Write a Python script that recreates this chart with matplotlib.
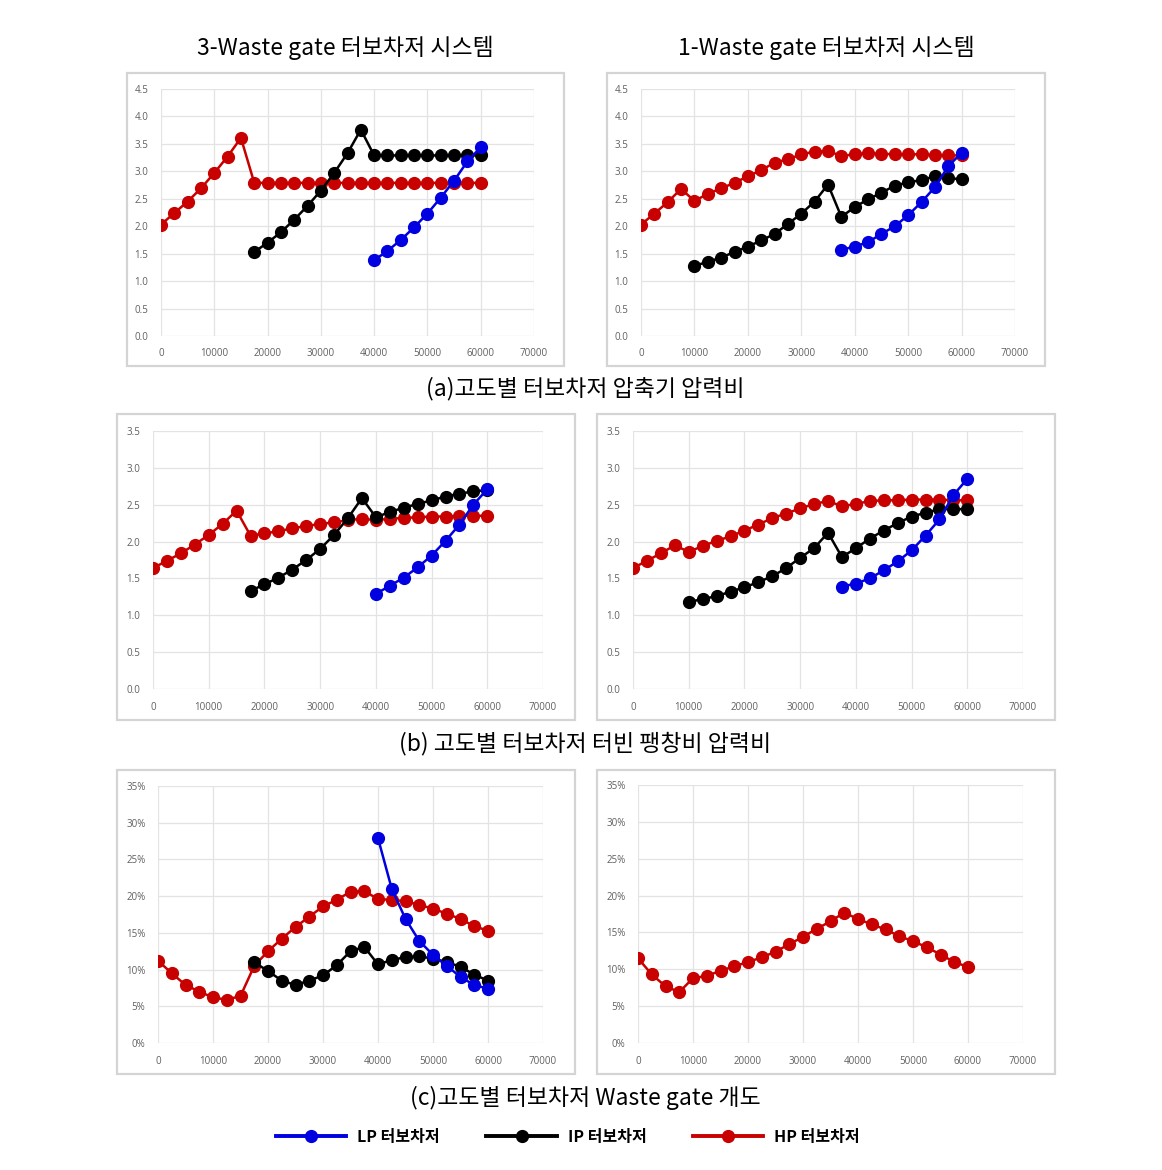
import matplotlib
matplotlib.use("Agg")
from matplotlib import pyplot as plt
from matplotlib.patches import Rectangle
from matplotlib.ticker import MultipleLocator, PercentFormatter

plt.rcParams['font.family'] = ['Noto Sans CJK KR', 'DejaVu Sans']

# altitude steps (m)
alt_all = list(range(0, 60001, 2500))
alt_ip_3 = list(range(17500, 60001, 2500))
alt_lp_3 = list(range(40000, 60001, 2500))
alt_ip_1 = list(range(10000, 60001, 2500))
alt_lp_1 = list(range(37500, 60001, 2500))

# (a) compressor pressure ratio
a3_hp = [2.03, 2.24, 2.45, 2.69, 2.97, 3.27, 3.61, 2.79, 2.79, 2.79, 2.79, 2.79, 2.79,
         2.79, 2.79, 2.79, 2.79, 2.79, 2.79, 2.79, 2.79, 2.79, 2.79, 2.79, 2.79]
a3_ip = [1.53, 1.70, 1.89, 2.12, 2.37, 2.65, 2.97, 3.33, 3.76,
         3.29, 3.29, 3.29, 3.29, 3.29, 3.29, 3.29, 3.29, 3.29]
a3_lp = [1.38, 1.55, 1.75, 1.98, 2.23, 2.52, 2.83, 3.18, 3.44]

a1_hp = [2.03, 2.23, 2.44, 2.68, 2.46, 2.59, 2.69, 2.79, 2.91, 3.02, 3.16, 3.22, 3.31,
         3.36, 3.37, 3.28, 3.31, 3.33, 3.32, 3.31, 3.31, 3.31, 3.29, 3.29, 3.29]
a1_ip = [1.28, 1.35, 1.43, 1.53, 1.63, 1.74, 1.86, 2.04, 2.23, 2.45, 2.76,
         2.17, 2.35, 2.49, 2.61, 2.74, 2.80, 2.84, 2.91, 2.87, 2.86]
a1_lp = [1.57, 1.63, 1.71, 1.86, 2.00, 2.20, 2.44, 2.71, 3.09, 3.34]

# (b) turbine expansion ratio
b3_hp = [1.64, 1.74, 1.84, 1.96, 2.09, 2.24, 2.42, 2.08, 2.11, 2.14, 2.18, 2.21, 2.24,
         2.26, 2.29, 2.31, 2.29, 2.31, 2.32, 2.33, 2.34, 2.34, 2.35, 2.35, 2.35]
b3_ip = [1.33, 1.42, 1.51, 1.62, 1.75, 1.90, 2.09, 2.32, 2.59,
         2.33, 2.40, 2.46, 2.51, 2.56, 2.61, 2.65, 2.68, 2.70]
b3_lp = [1.29, 1.40, 1.51, 1.65, 1.81, 2.01, 2.23, 2.50, 2.71]

b1_hp = [1.64, 1.74, 1.84, 1.95, 1.86, 1.94, 2.01, 2.07, 2.15, 2.23, 2.32, 2.38, 2.45,
         2.51, 2.55, 2.48, 2.51, 2.55, 2.56, 2.56, 2.57, 2.57, 2.57, 2.56, 2.56]
b1_ip = [1.18, 1.22, 1.26, 1.32, 1.38, 1.45, 1.53, 1.64, 1.78, 1.91, 2.12,
         1.79, 1.91, 2.04, 2.15, 2.25, 2.34, 2.39, 2.44, 2.44, 2.44]
b1_lp = [1.39, 1.43, 1.50, 1.61, 1.73, 1.88, 2.08, 2.30, 2.63, 2.85]

# (c) waste gate opening (%)
c3_hp = [11.2, 9.5, 7.9, 7.0, 6.2, 5.9, 6.4, 10.5, 12.5, 14.2, 15.8, 17.2, 18.6,
         19.5, 20.6, 20.7, 19.6, 19.5, 19.3, 18.8, 18.3, 17.6, 16.9, 15.9, 15.3]
c3_ip = [11.0, 9.8, 8.5, 7.9, 8.5, 9.2, 10.6, 12.5, 13.1,
         10.7, 11.3, 11.7, 11.8, 11.5, 11.0, 10.4, 9.3, 8.5]
c3_lp = [27.9, 21.0, 16.9, 13.9, 12.0, 10.5, 9.0, 7.9, 7.4]

c1_hp = [11.5, 9.3, 7.7, 6.9, 8.8, 9.1, 9.8, 10.4, 11.0, 11.6, 12.4, 13.4, 14.4,
         15.5, 16.5, 17.7, 16.8, 16.1, 15.4, 14.5, 13.8, 13.0, 12.0, 11.0, 10.3]

col_titles = ["3-Waste gate 터보차저 시스템", "1-Waste gate 터보차저 시스템"]
captions = ["(a)고도별 터보차저 압축기 압력비",
            "(b) 고도별 터보차저 터빈 팽창비 압력비",
            "(c)고도별 터보차저 Waste gate 개도"]
series_names = ["LP 터보차저", "IP 터보차저", "HP 터보차저"]

BLUE = "#0000e0"
BLACK = "#000000"
RED = "#c80000"

W, H = 1162, 1170
fig = plt.figure(figsize=(W / 100, H / 100), dpi=100)


def px_axes(x0, y0, x1, y1):
    return fig.add_axes([x0 / W, 1 - y1 / H, (x1 - x0) / W, (y1 - y0) / H])


def frame(x0, y0, x1, y1):
    fig.patches.append(Rectangle((x0 / W, 1 - y1 / H), (x1 - x0) / W, (y1 - y0) / H,
                                 transform=fig.transFigure, fill=False,
                                 edgecolor="#d4d4d4", linewidth=1.6))


def style(ax, ymax, ystep, pct=False):
    ax.set_xlim(0, 70000)
    ax.set_ylim(0, ymax)
    ax.xaxis.set_major_locator(MultipleLocator(10000))
    ax.yaxis.set_major_locator(MultipleLocator(ystep))
    if pct:
        ax.yaxis.set_major_formatter(PercentFormatter(xmax=100, decimals=0))
    else:
        ax.yaxis.set_major_formatter(plt.FuncFormatter(lambda v, p: f"{v:.1f}"))
    ax.grid(True, color="#e3e3e3", linewidth=0.9)
    ax.set_axisbelow(True)
    for s in ax.spines.values():
        s.set_visible(False)
    ax.tick_params(length=0, labelsize=7, labelcolor="#606060", pad=9)
    for lab in ax.get_xticklabels() + ax.get_yticklabels():
        lab.set_family(['Open Sans', 'DejaVu Sans'])


def series(ax, x, y, color):
    return ax.plot(x, y, color=color, linewidth=1.8, marker="o", markersize=8.5,
                   markerfacecolor=color, markeredgecolor=color)[0]


# frames
frame(127, 73, 564, 366)
frame(607, 73, 1045, 366)
frame(117, 414, 575, 720)
frame(597, 414, 1055, 720)
frame(117, 770, 575, 1074)
frame(597, 770, 1055, 1074)

# row (a)
ax = px_axes(161, 89, 534, 336)
style(ax, 4.5, 0.5)
series(ax, alt_all, a3_hp, RED)
series(ax, alt_ip_3, a3_ip, BLACK)
series(ax, alt_lp_3, a3_lp, BLUE)

ax = px_axes(641, 89, 1015, 336)
style(ax, 4.5, 0.5)
series(ax, alt_all, a1_hp, RED)
series(ax, alt_ip_1, a1_ip, BLACK)
series(ax, alt_lp_1, a1_lp, BLUE)

# row (b)
ax = px_axes(153, 431, 543, 689)
style(ax, 3.5, 0.5)
series(ax, alt_all, b3_hp, RED)
series(ax, alt_ip_3, b3_ip, BLACK)
series(ax, alt_lp_3, b3_lp, BLUE)

ax = px_axes(633, 431, 1023, 689)
style(ax, 3.5, 0.5)
series(ax, alt_all, b1_hp, RED)
series(ax, alt_ip_1, b1_ip, BLACK)
series(ax, alt_lp_1, b1_lp, BLUE)

# row (c)
ax = px_axes(158, 786, 543, 1043)
style(ax, 35, 5, pct=True)
h_hp = series(ax, alt_all, c3_hp, RED)
h_ip = series(ax, alt_ip_3, c3_ip, BLACK)
h_lp = series(ax, alt_lp_3, c3_lp, BLUE)

ax = px_axes(638, 785, 1023, 1043)
style(ax, 35, 5, pct=True)
series(ax, alt_all, c1_hp, RED)

# texts
tkw = dict(ha="center", va="center", fontsize=16.5, fontweight="light")
fig.text(345 / W, 1 - 48 / H, col_titles[0], **tkw)
fig.text(826 / W, 1 - 48 / H, col_titles[1], **tkw)
fig.text(585 / W, 1 - 389 / H, captions[0], **tkw)
fig.text(585 / W, 1 - 744 / H, captions[1], **tkw)
fig.text(585 / W, 1 - 1098 / H, captions[2], **tkw)

leg = fig.legend([h_lp, h_ip, h_hp], series_names, loc="center",
                 bbox_to_anchor=(568 / W, 1 - 1137 / H), ncol=3, frameon=False,
                 handlelength=4.4, columnspacing=2.9, handletextpad=0.7,
                 prop={"weight": "bold", "size": 11.5})
for ln in leg.get_lines():
    ln.set_linewidth(2.8)

fig.savefig("out.png", dpi=100, facecolor="white")
